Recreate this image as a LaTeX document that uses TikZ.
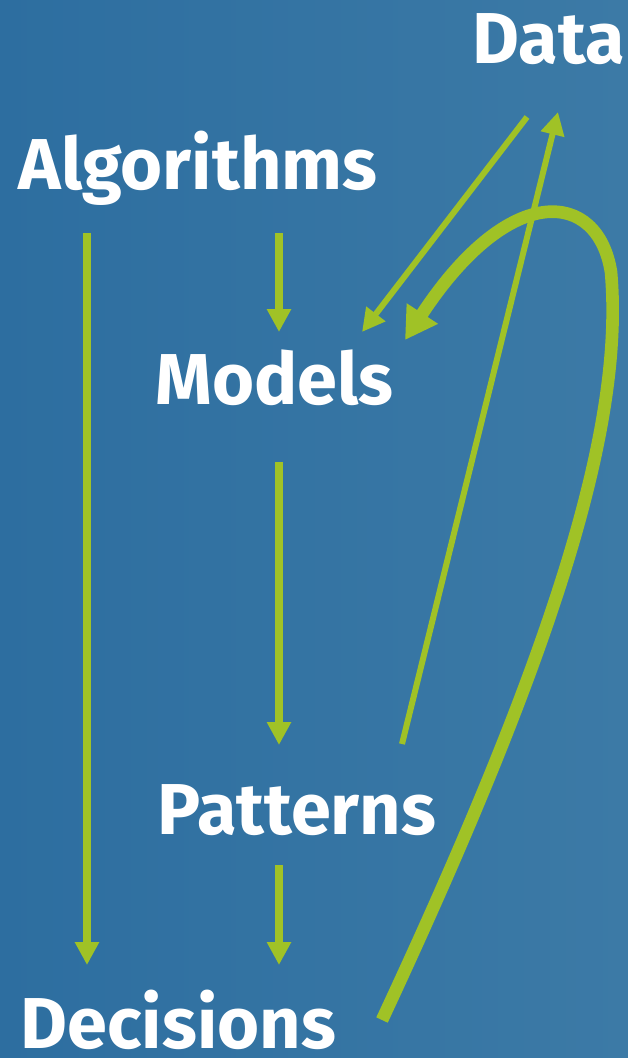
\documentclass[tikz,border=0pt]{standalone}
\usepackage{fontspec}
\setmainfont{Fira Sans}
\usepackage{tikz}
\usetikzlibrary{arrows.meta}
\definecolor{bgleft}{RGB}{45,110,160}
\definecolor{bgright}{RGB}{60,122,166}
\definecolor{leaf}{RGB}{160,194,38}
\tikzset{
  word/.style={text=white, font=\fontsize{20.5}{24}\selectfont\bfseries, inner sep=0pt, anchor=base west},
  flow/.style={draw=leaf, line width=2.3pt, -{Triangle[width=6.5pt,length=6.5pt]}},
  slim/.style={draw=leaf, line width=1.7pt, -{Triangle[width=6.5pt,length=6.5pt]}},
  loop/.style={draw=leaf, line width=3.6pt, -{Triangle[width=10pt,length=9pt]}}
}

\begin{document}
\begin{tikzpicture}[x=0.01cm, y=-0.01cm]
  \shade[left color=bgleft, right color=bgright] (0,0) rectangle (628,1058);
  \useasboundingbox (0,0) rectangle (628,1058);
  % words
  \node[word] (data) at (472,64) {Data};
  \node[word] (algo) at (18,190) {Algorithms};
  \node[word] (models) at (155,404) {Models};
  \node[word] (patterns) at (157,834) {Patterns};
  \node[word] (decisions) at (20,1048) {Decisions};
  % arrow ends
  \coordinate (a1) at (87,233);   \coordinate (d1) at (87,965);
  \coordinate (a2) at (279,233);  \coordinate (m1) at (279,332);
  \coordinate (m2) at (279,462);  \coordinate (p1) at (279,745);
  \coordinate (p2) at (279,865);  \coordinate (d2) at (279,965);
  \coordinate (t1) at (527,117);  \coordinate (m3) at (362,332);
  \coordinate (p3) at (402,744);  \coordinate (t2) at (558,112);
  \coordinate (d3) at (382,1020); \coordinate (m4) at (405,340);
  \draw[flow] (a1) -- (d1);
  \draw[flow] (a2) -- (m1);
  \draw[flow] (m2) -- (p1);
  \draw[flow] (p2) -- (d2);
  \draw[slim] (t1) -- (m3);
  \draw[slim] (p3) -- (t2);
  \draw[loop] (d3) .. controls (550,660) and (625,430) .. (611,272)
    .. controls (598,190) and (510,180) .. (m4);
\end{tikzpicture}
\end{document}
